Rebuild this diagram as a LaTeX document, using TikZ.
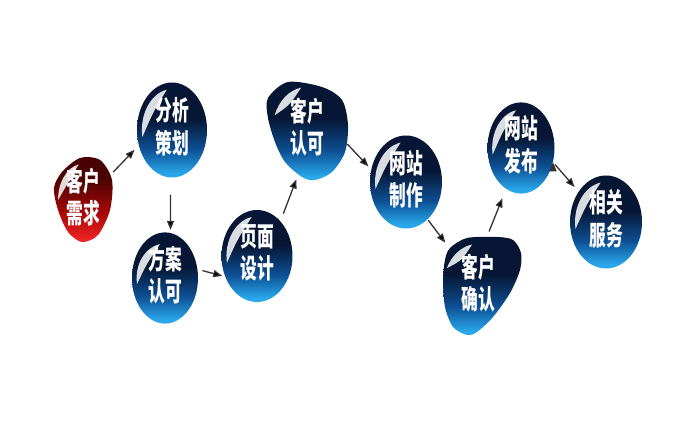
\documentclass[tikz,border=0pt]{standalone}
\usepackage{fontspec}
\usepackage{graphicx}
\newfontfamily\cjk{Noto Sans CJK SC}
\usetikzlibrary{shapes.geometric,arrows.meta}

\definecolor{bubDark}{HTML}{061634}
\definecolor{bubMid}{HTML}{0D4F93}
\definecolor{bubLight}{HTML}{2AA8EC}
\definecolor{redDark}{HTML}{4A0303}
\definecolor{redMid}{HTML}{A80808}
\definecolor{redLight}{HTML}{EE2222}
\definecolor{arrowGray}{HTML}{333333}

\pgfdeclareverticalshading{bubble}{100bp}{color(0bp)=(bubLight); color(27bp)=(bubLight); color(40bp)=(bubMid); color(56bp)=(bubDark); color(100bp)=(bubDark)}
\pgfdeclareverticalshading{redbubble}{100bp}{color(0bp)=(redLight); color(27bp)=(redLight); color(42bp)=(redMid); color(62bp)=(redDark); color(100bp)=(redDark)}

\newcommand{\duo}[2]{\scalebox{.62}[1]{\begin{tabular}{@{}c@{}}#1\\#2\end{tabular}}}
\newcommand{\glint}[4][190]{\fill[gloss,shift={(#2.center)}] (#1:{.86*#3} and {.86*#4}) arc[start angle=#1,end angle=100,x radius={.86*#3},y radius={.86*#4}] .. controls ({(#1+100)/2}:{.66*#3} and {.66*#4}) .. cycle;}

\begin{document}
\begin{tikzpicture}[x=1pt,y=1pt,
  word/.style={ellipse,inner sep=0pt,text=white,font=\cjk\bfseries\fontsize{27}{30}\selectfont},
  bubble/.style={word,shade,shading=bubble},
  flow/.style={draw=arrowGray,line width=1.3pt,-{Triangle[length=9pt,width=7pt]}},
  gloss/.style={fill=white,opacity=.85}]
\useasboundingbox (0,0) rectangle (685,425);

% odd shaped blobs
\shade[shading=redbubble] plot[smooth cycle] coordinates {(62,253) (80,267) (100,265) (112,245) (110,215) (98,190) (82,183) (68,193) (58,215) (54,237)};
\shade[shading=bubble] plot[smooth cycle] coordinates {(268,327) (288,343) (322,338) (342,325) (348,300) (345,273) (332,253) (315,245) (302,248) (285,263) (275,283) (268,307)};
\shade[shading=bubble] plot[smooth cycle] coordinates {(450,177) (467,187) (497,188) (513,185) (521,172) (520,155) (510,132) (493,108) (477,93) (467,90) (453,98) (445,118) (443,145) (445,165)};

\node[word,minimum width=58pt,minimum height=84pt] (need) at (83,225) {\duo{客户}{需求}};
\node[bubble,minimum width=70pt,minimum height=95pt] (plan) at (172,295) {\duo{分析}{策划}};
\node[bubble,minimum width=66pt,minimum height=80pt] (scheme) at (165,147) {\duo{方案}{认可}};
\node[bubble,minimum width=71pt,minimum height=92pt] (design) at (257,169) {\duo{页面}{设计}};
\node[word,minimum width=80pt,minimum height=100pt] (okA) at (307,295) {\duo{客户}{认可}};
\node[bubble,minimum width=72pt,minimum height=93pt] (build) at (406,243) {\duo{网站}{制作}};
\node[word,minimum width=80pt,minimum height=98pt] (okB) at (478,139) {\duo{客户}{确认}};
\node[bubble,minimum width=67pt,minimum height=89pt] (launch) at (521,277) {\duo{网站}{发布}};
\node[bubble,minimum width=72pt,minimum height=93pt] (service) at (606,203) {\duo{相关}{服务}};

% highlights
\glint[180]{need}{29}{42}
\glint{plan}{35}{47.5}
\glint{scheme}{33}{40}
\glint{design}{35.5}{46}
\glint[160]{okA}{40}{50}
\glint{build}{36}{46.5}
\glint[155]{okB}{40}{49}
\glint{launch}{33.5}{44.5}
\glint{service}{36}{46.5}

\draw[flow]
(need.42) edge[shorten <=7pt,shorten >=6pt] (plan.205)
(plan.268) edge[shorten <=17pt,shorten >=3pt] (scheme.83)
(scheme.15) edge[shorten <=5pt,shorten >=3pt] (design.213)
(design.56) edge[shorten <=8pt,shorten >=1pt] (okA.258)
(okA.-18) edge[shorten <=2pt,shorten >=4pt] (build.160)
(build.-60) edge[shorten <=1pt,shorten >=9pt] (okB.127)
(okB.80) edge[shorten <=7pt,shorten >=10pt] (launch.250)
(launch.-24) edge[shorten <=3pt,shorten >=6pt] (service.132)
;

\end{tikzpicture}
\end{document}
